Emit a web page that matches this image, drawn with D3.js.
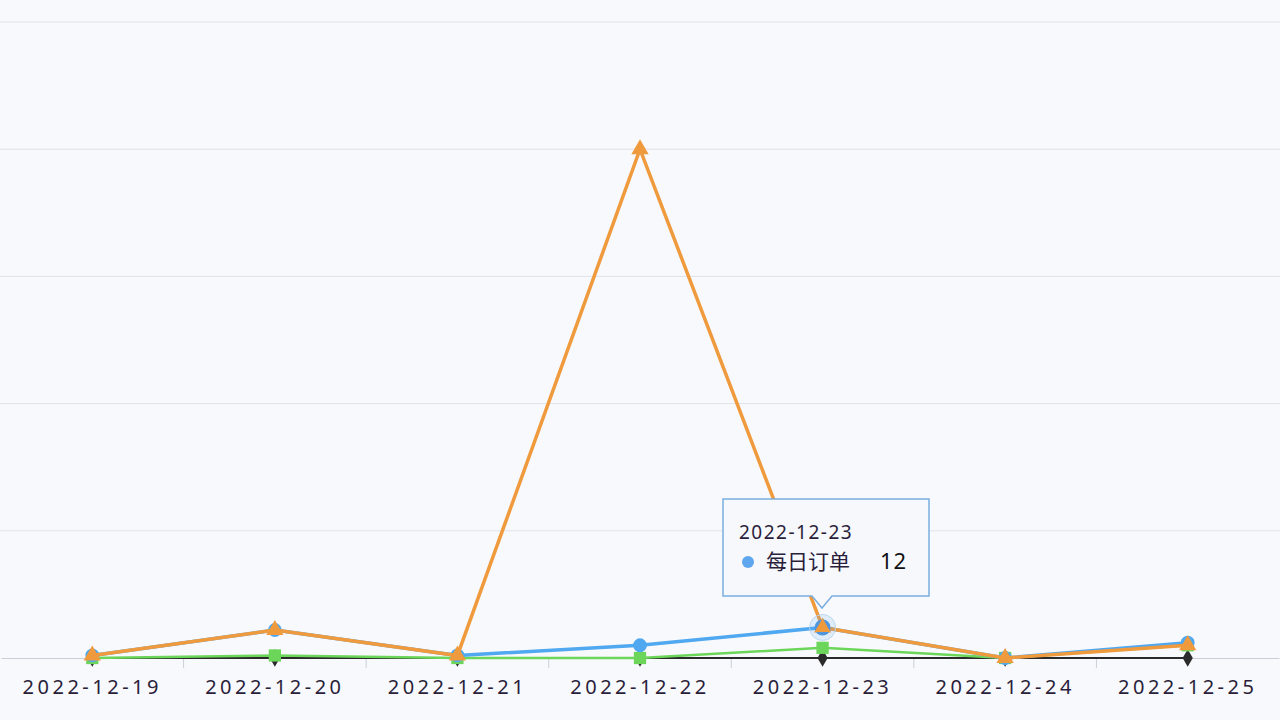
<!DOCTYPE html>
<html><head><meta charset="utf-8">
<script src="https://cdn.jsdelivr.net/npm/d3@7"></script>
<style>
body{margin:0;background:#f8f9fc;font-family:"Noto Sans CJK SC","Noto Sans",sans-serif;}
</style></head>
<body><svg id="chart" width="1280" height="720"></svg>
<script>
const dates = ["2022-12-19","2022-12-20","2022-12-21","2022-12-22","2022-12-23","2022-12-24","2022-12-25"];
const blackVals = [0, 0, 0, 0, 0, 0, 0];
const greenVals = [0, 1, 0, 0, 4, 0, 5];
const blueVals = [1, 11, 1, 5, 12, 0, 6];
const orangeVals = [1, 11, 1, 200, 12, 0, 5];
const yTicks = [0, 50, 100, 150, 200, 250];

const svg = d3.select("#chart");
const x = d3.scaleBand().domain(dates).range([1, 1279]);
const y = d3.scaleLinear().domain([0, 250]).range([658, 22]);
const cx = d => x(d) + x.bandwidth() / 2;

// gridlines
svg.append("g").selectAll("line").data(yTicks.slice(1)).join("line")
  .attr("x1", 0).attr("x2", 1280).attr("y1", d => y(d)).attr("y2", d => y(d))
  .attr("stroke", "#dfe3ea").attr("stroke-width", 1);

// x axis
const xAxis = svg.append("g").attr("transform", `translate(0,${y(0)})`)
  .call(d3.axisBottom(x).tickSize(0).tickPadding(22));
xAxis.select(".domain").attr("stroke", "#c9d0da");
xAxis.selectAll("text").attr("font-size", 20).attr("fill", "#2a1e3a")
  .attr("letter-spacing", "3.5px").attr("font-family", "Noto Sans");
xAxis.selectAll(".sep").data(dates.slice(1)).join("line").attr("class", "sep")
  .attr("x1", d => x(d)).attr("x2", d => x(d)).attr("y1", 0).attr("y2", 10)
  .attr("stroke", "#c9d0da");

const series = [
  {vals: blackVals, color: "#2b2b2b", sym: d3.symbolDiamond, w: 2, s: 90},
  {vals: greenVals, color: "#6cd65a", sym: d3.symbolSquare, w: 2.5, s: 150},
  {vals: blueVals, color: "#4fa8f0", sym: d3.symbolCircle, w: 3.5, s: 150},
  {vals: orangeVals, color: "#f09a3e", sym: d3.symbolTriangle, w: 3.5, s: 130}
];
const line = d3.line().x((v, i) => cx(dates[i])).y(v => y(v));
series.forEach(s => {
  svg.append("path").datum(s.vals).attr("d", line)
    .attr("fill", "none").attr("stroke", s.color).attr("stroke-width", s.w);
  svg.append("g").selectAll("path").data(s.vals).join("path")
    .attr("transform", (v, i) => `translate(${cx(dates[i])},${y(v)})`)
    .attr("d", d3.symbol().type(s.sym).size(s.s)).attr("fill", s.color);
});

// hover highlight on 12-23
const hx = cx(dates[4]), hy = y(blueVals[4]);
svg.append("circle").attr("cx", hx).attr("cy", hy).attr("r", 13)
  .attr("fill", "#4fa8f0").attr("fill-opacity", 0.15).attr("stroke", "#bcd6f0");
svg.append("circle").attr("cx", hx).attr("cy", hy).attr("r", 8).attr("fill", "#4f95e0");
svg.append("path").attr("d", d3.symbol().type(d3.symbolTriangle).size(110)())
  .attr("transform", `translate(${hx},${hy})`).attr("fill", "#f09a3e");

// tooltip
const tt = svg.append("g").attr("transform", "translate(723,499)");
tt.append("path")
  .attr("d", "M0,0 H206 V97 H109 L99,109 L89,97 H0 Z")
  .attr("fill", "#f6f8fb").attr("stroke", "#7aaee0").attr("stroke-width", 1.5);
tt.append("text").attr("x", 16).attr("y", 40).attr("font-size", 19).attr("fill", "#2a1e3a")
  .attr("letter-spacing", "1.5px").attr("font-family", "Noto Sans").text(dates[4]);
tt.append("circle").attr("cx", 25).attr("cy", 63).attr("r", 6).attr("fill", "#5ea6ee");
tt.append("text").attr("x", 43).attr("y", 70).attr("font-size", 21).attr("fill", "#2a1e3a").text("每日订单");
tt.append("text").attr("x", 157).attr("y", 70).attr("font-size", 22).attr("fill", "#111")
  .attr("font-family", "Noto Sans").attr("letter-spacing", "1px").text(blueVals[4]);
</script></body></html>
